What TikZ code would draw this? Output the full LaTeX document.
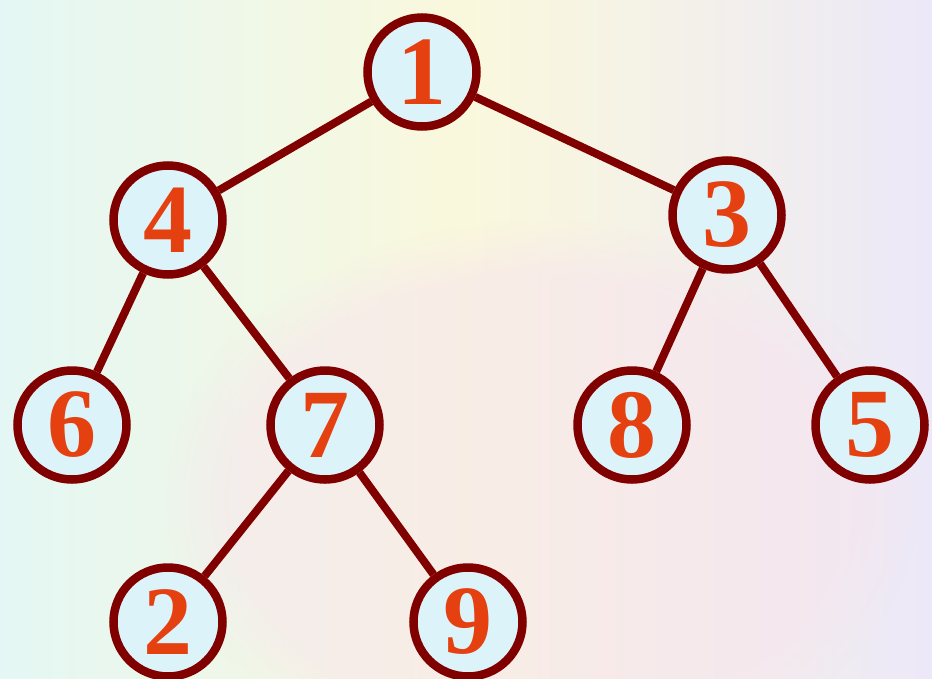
\documentclass[tikz,border=0pt]{standalone}
\usepackage{fontspec}
\setmainfont{Liberation Serif}
\usetikzlibrary{fadings}
\begin{document}
\begin{tikzpicture}[x=1pt,y=-1pt,
  treenode/.style={circle,draw=nodeborder,line width=8.5pt,fill=nodefill,minimum size=109pt,inner sep=0pt,
    text=digitcolor,font=\fontsize{98}{98}\selectfont\bfseries},
  edge/.style={draw=nodeborder,line width=8pt}]
\definecolor{nodeborder}{HTML}{800000}
\definecolor{nodefill}{HTML}{DCF3FA}
\definecolor{digitcolor}{HTML}{E5400F}
\definecolor{bgA}{HTML}{E4F7F4}
\definecolor{bgB}{HTML}{FAF8DC}
\definecolor{bgC}{HTML}{F8E4EE}
\definecolor{bgD}{HTML}{ECE8F8}
\useasboundingbox (0,0) rectangle (932,678);
\shade[left color=bgA,right color=bgB] (0,0) rectangle (466,678);
\shade[left color=bgB,right color=bgD] (466,0) rectangle (932,678);
\fill[bgC,opacity=0.55,path fading=circle with fuzzy edge 20 percent] (540,500) ellipse (380 and 280);
\node[treenode] (n1) at (422,72) {1};
\node[treenode] (n4) at (168,220) {4};
\node[treenode] (n3) at (727,215) {3};
\node[treenode] (n6) at (72,425) {6};
\node[treenode] (n7) at (325,425) {7};
\node[treenode] (n8) at (632,425) {8};
\node[treenode] (n5) at (870,425) {5};
\node[treenode] (n2) at (168,622) {2};
\node[treenode] (n9) at (468,622) {9};
\draw[edge] (n1) -- (n4);
\draw[edge] (n1) -- (n3);
\draw[edge] (n4) -- (n6);
\draw[edge] (n4) -- (n7);
\draw[edge] (n3) -- (n8);
\draw[edge] (n3) -- (n5);
\draw[edge] (n7) -- (n2);
\draw[edge] (n7) -- (n9);
\end{tikzpicture}
\end{document}
